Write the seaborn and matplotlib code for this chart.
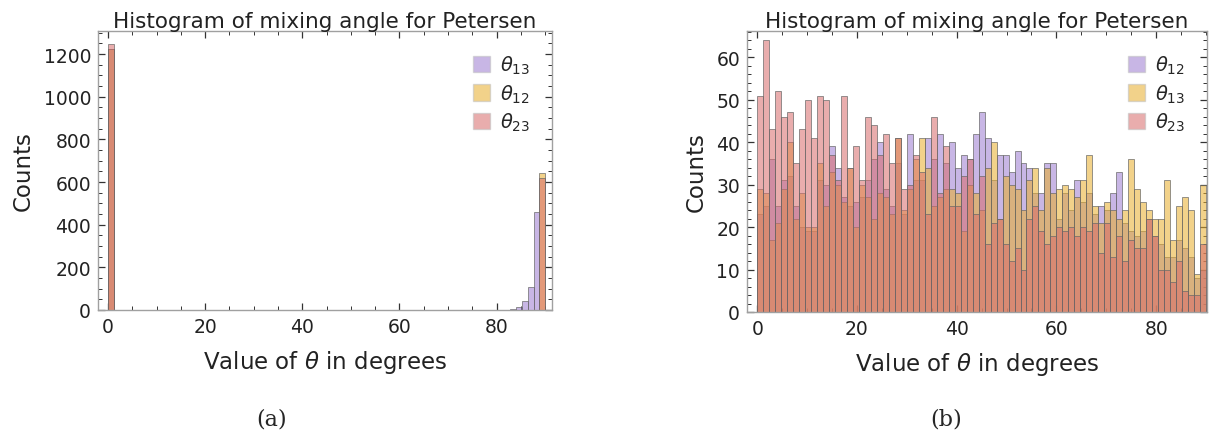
import numpy as np
import pandas as pd
import seaborn as sns
import matplotlib.pyplot as plt
from matplotlib.patches import Patch
from matplotlib.ticker import MultipleLocator

# ---------------- data ----------------
bin_width = 1.2
n_bins = 75

# left panel (a): sparse histograms -> (bin index, count)
left_labels = [r"$\theta_{13}$", r"$\theta_{12}$", r"$\theta_{23}$"]
left_purple_bins = [0, 69, 70, 71, 72, 73]
left_purple_counts = [1224, 3, 12, 40, 106, 458]
left_yellow_bins = [0, 74]
left_yellow_counts = [1224, 643]
left_red_bins = [0, 74]
left_red_counts = [1247, 618]

# right panel (b): counts per 1.2-degree bin
right_labels = [r"$\theta_{12}$", r"$\theta_{13}$", r"$\theta_{23}$"]
right_purple = [23, 25, 36, 25, 31, 32, 25, 20, 19, 19, 31, 30, 39, 34, 27,
                25, 26, 27, 31, 36, 40, 29, 25, 35, 23, 42, 31, 31, 41, 36,
                42, 35, 40, 34, 37, 36, 42, 47, 41, 31, 37, 37, 33, 38, 35,
                34, 28, 28, 35, 35, 22, 28, 24, 31, 26, 28, 23, 25, 24, 28,
                33, 21, 19, 18, 19, 22, 18, 16, 13, 13, 17, 15, 13, 8, 10]
right_yellow = [29, 28, 17, 21, 29, 40, 22, 28, 20, 20, 35, 25, 33, 30, 26,
                34, 20, 30, 27, 22, 28, 27, 23, 41, 24, 29, 36, 41, 34, 25,
                27, 29, 29, 28, 19, 30, 28, 24, 34, 40, 22, 32, 30, 29, 24,
                31, 34, 24, 34, 28, 29, 30, 29, 27, 31, 37, 25, 21, 26, 24,
                22, 24, 36, 29, 26, 24, 22, 22, 31, 17, 25, 27, 24, 9, 30]
right_red = [51, 64, 43, 52, 46, 47, 35, 43, 50, 41, 51, 50, 37, 31, 51,
             34, 39, 31, 46, 44, 37, 42, 35, 41, 29, 30, 37, 33, 23, 46,
             28, 39, 25, 25, 32, 36, 23, 32, 16, 21, 22, 16, 12, 15, 10,
             22, 25, 19, 16, 18, 20, 19, 20, 18, 20, 19, 21, 14, 21, 13,
             18, 12, 17, 15, 15, 22, 18, 10, 10, 7, 12, 5, 4, 4, 16]

colors = ["#9b7ad0", "#e8ad2a", "#d86b6b"]
edges = [i * bin_width for i in range(n_bins + 1)]
centers = np.array(edges[:-1]) + bin_width / 2

# ---------------- style ----------------
sns.set_theme(style="ticks")
plt.rcParams['font.family'] = ['DejaVu Sans']
plt.rcParams['mathtext.fontset'] = 'dejavusans'

fig = plt.figure(figsize=(12.19, 4.39), dpi=100)
axL = fig.add_axes([98 / 1219, 1 - 311 / 439, 454 / 1219, 279 / 439])
axR = fig.add_axes([747 / 1219, 1 - 313 / 439, 460 / 1219, 281 / 439])


def draw(ax, series, labels):
    for (bins_idx, counts), col in zip(series, colors):
        df = pd.DataFrame({"x": centers[np.asarray(bins_idx)],
                           "w": np.asarray(counts, dtype=float)})
        sns.histplot(data=df, x="x", weights="w", bins=edges, ax=ax,
                     color=col, alpha=0.55, edgecolor=(0.4, 0.4, 0.4, 0.8),
                     linewidth=0.6, element="bars", fill=True)
    handles = [Patch(facecolor=c, alpha=0.55, edgecolor=(0.75, 0.75, 0.75)) for c in colors]
    ax.legend(handles, labels, loc="upper right", frameon=False, fontsize=14,
              handlelength=0.9, handleheight=0.9, handletextpad=0.5,
              labelspacing=0.3, bbox_to_anchor=(0.99, 0.98))
    ax.set_title("Histogram of mixing angle for Petersen", fontsize=15.5, pad=3,
                 color="#222222")
    ax.set_xlabel(r"Value of $\theta$ in degrees", fontsize=16.5, labelpad=9,
                  color="#222222")
    ax.set_ylabel("Counts", fontsize=16.5, labelpad=6, color="#222222")
    ax.xaxis.set_major_locator(MultipleLocator(20))
    ax.xaxis.set_minor_locator(MultipleLocator(5))
    ax.tick_params(which="both", direction="in", top=True, right=True,
                   color="#333333", labelsize=13.5, labelcolor="#222222", pad=5)
    ax.tick_params(which="major", length=5, width=0.9)
    ax.tick_params(which="minor", length=3, width=0.7)
    for s in ax.spines.values():
        s.set_color("#a0a0a0")
        s.set_linewidth(1.0)


left_series = [(left_purple_bins, left_purple_counts),
               (left_yellow_bins, left_yellow_counts),
               (left_red_bins, left_red_counts)]
right_series = [(np.arange(n_bins), right_purple),
                (np.arange(n_bins), right_yellow),
                (np.arange(n_bins), right_red)]

draw(axL, left_series, left_labels)
axL.set_xlim(-2.06, 91.4)
axL.set_ylim(0, 1308)
axL.yaxis.set_major_locator(MultipleLocator(200))
axL.yaxis.set_minor_locator(MultipleLocator(50))

draw(axR, right_series, right_labels)
axR.set_xlim(-2.05, 90.2)
axR.set_ylim(0, 66.2)
axR.yaxis.set_major_locator(MultipleLocator(10))
axR.yaxis.set_minor_locator(MultipleLocator(2))

fig.text(272 / 1219, 0.02, "(a)", ha="center", va="bottom", fontsize=16,
         family="DejaVu Serif")
fig.text(946 / 1219, 0.02, "(b)", ha="center", va="bottom", fontsize=16,
         family="DejaVu Serif")

fig.savefig("out.png", dpi=100)
